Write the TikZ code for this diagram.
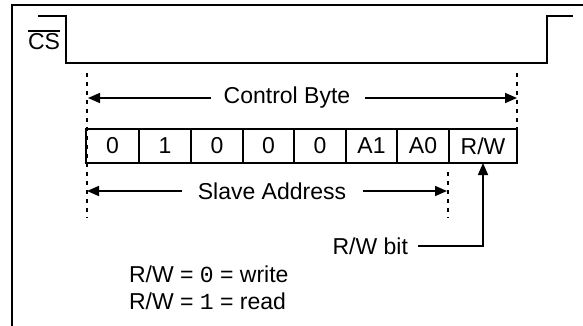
\documentclass[tikz,border=0pt]{standalone}
\usepackage{fontspec}
\setmainfont{Liberation Sans}
\newfontfamily\monofnt{Liberation Mono}
\usetikzlibrary{arrows.meta}
\begin{document}
\begin{tikzpicture}[x=1pt,y=-1pt,line width=1.6pt,
  lbl/.style={inner sep=0pt,outer sep=0pt,font=\fontsize{23}{27}\selectfont},
  dimarrow/.style={-{Triangle[length=12pt,width=10pt]}},
  guide/.style={line width=1.5pt,dash pattern=on 4pt off 5pt},
  cellbox/.style={draw,line width=1.6pt,minimum height=34pt,inner sep=0pt,outer sep=0pt,
    anchor=north west,font=\fontsize{23}{27}\selectfont}]
\useasboundingbox (0,0) rectangle (583,326);
% frame (top and left only)
\draw (12,326) -- (12,5) -- (583,5);
% CS waveform
\draw (38,16) -- (66,16) -- (66,63) -- (547,63) -- (547,16) -- (573,16);
\node[lbl,anchor=base west] (cs) at (28,50) {CS};
\draw[line width=1.3pt] ([yshift=3pt]cs.north west) -- ([yshift=3pt]cs.north east);
% cells
\node[cellbox,minimum width=53pt] (c0) at (86,129) {0};
\node[cellbox,minimum width=52pt] (c1) at (c0.north east) {1};
\node[cellbox,minimum width=52pt] (c2) at (c1.north east) {0};
\node[cellbox,minimum width=51pt] (c3) at (c2.north east) {0};
\node[cellbox,minimum width=52pt] (c4) at (c3.north east) {0};
\node[cellbox,minimum width=51pt] (c5) at (c4.north east) {A1};
\node[cellbox,minimum width=52pt] (c6) at (c5.north east) {A0};
\node[cellbox,minimum width=68pt] (c7) at (c6.north east) {R/W};
% guide lines
\coordinate (gLt) at (87,73);
\coordinate (gLb) at (87,218);
\coordinate (gRt) at (517,73);
\coordinate (gRb) at (517,163);
\coordinate (gMt) at (448,172);
\coordinate (gMb) at (448,218);
\draw[guide] (gLt) -- (gLb);
\draw[guide] (gRt) -- (gRb);
\draw[guide] (gMt) -- (gMb);
% Control Byte
\node[lbl] (ctrl) at (287,98) {Control Byte};
\coordinate (cbL) at (88,98);
\coordinate (cbR) at (517,98);
\draw[dimarrow] ([xshift=-13pt]ctrl.west) -- (cbL);
\draw[dimarrow] ([xshift=15pt]ctrl.east) -- (cbR);
% Slave Address
\node[lbl] (slave) at (272,191) {Slave Address};
\coordinate (saL) at (87,191);
\coordinate (saR) at (447,191);
\draw[dimarrow] ([xshift=-16pt]slave.west) -- (saL);
\draw[dimarrow] ([xshift=17pt]slave.east) -- (saR);
% R/W bit
\node[lbl,anchor=east] (rwbit) at (408,246) {R/W bit};
\draw[dimarrow] ([xshift=10pt]rwbit.east) -| (c7.south);
% notes
\node[lbl,anchor=base west] (n1) at (129,282) {R/W = {\monofnt 0} = write};
\node[lbl,anchor=base west] (n2) at (129,309) {R/W = {\monofnt 1} = read};
\end{tikzpicture}
\end{document}
